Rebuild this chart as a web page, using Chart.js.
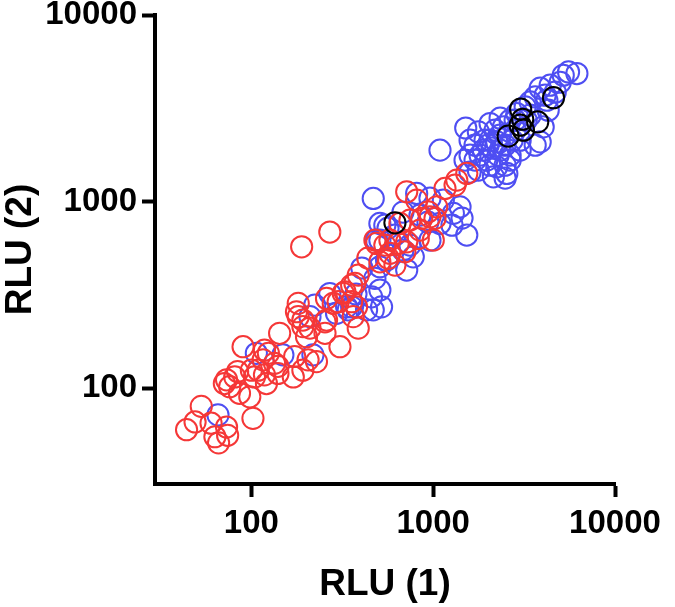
<!DOCTYPE html>
<html>
<head>
<meta charset="utf-8">
<script src="https://cdn.jsdelivr.net/npm/chart.js@4/dist/chart.umd.min.js"></script>
<style>
html,body{margin:0;padding:0;background:#ffffff;}
#wrap{width:675px;height:607px;}
</style>
</head>
<body>
<div id="wrap"><canvas id="c" width="675" height="607"></canvas></div>
<script>
// Tick labels (both axes)
const tickValues = [100, 1000, 10000];
const xTitle = 'RLU (1)';
const yTitle = 'RLU (2)';

// Red series
const redX = [44,49,53,60,63,66,74,73,102,76,73,84,90,86,98,104,109,116,124,121,140,143,170,181,192,201,205,228,307,259,282,379,363,71,81,100,118,140,134,173,192,118,177,192,210,181,259,254,189,270,387,356,327,300,356,387,254,488,1530,1348,1161,715,811,1045,960,745,846,656,715,1001,578,478,578,509,371,320,940,1319,865,642,566,699,828,616,1023,437,542];
const redY = [60,66,80,65,55,51,56,62,69,102,111,123,167,94,90,115,125,142,154,106,131,197,115,242,214,189,142,139,167,232,285,273,242,106,115,125,118,120,136,148,125,160,257,232,210,285,303,227,573,687,404,357,329,291,291,210,197,597,1416,1304,1177,1129,1019,938,829,796,704,764,609,622,622,622,528,476,365,323,882,1226,813,597,497,539,635,457,813,498,585];

// Blue series
const blueX = [65.5,106.5,149,210,218,334,468,509,509,478,458,520,270,341,223,430,468,509,811,715,1530,1291,1405,1137,509,356,294,960,777,682,554,488,1090,1510,1090,2055,1888,1971,2238,2649,2144,2541,1772,5552,6173,5191,4400,3877,3639,4220,3205,2884,2649,2433,3639,4027,2238,2649,3415,3877,2334,2109,2487,2275,1929,2823,3008,3246,4291,4690,616,846,1441,1269,960,564,682,936,745,405,1595,1699,1772,2055,2334,1497,2487,1595,376,542,2004,2190,1811,2334,2718,2487,2055,2823,3415,4130,4996,3008,1699,1595];
const blueY = [72,154,151,242,151,273,263,622,448,388,309,273,322,263,279,263,1040,764,1106,430,662,865,938,1019,336,273,252,622,506,550,486,622,764,2480,1887,2134,1887,1668,1536,1668,1358,1416,1475,4953,4856,4755,4205,4052,3640,3495,3218,2966,2731,2514,2006,2514,2090,1775,3422,2090,2270,1934,2006,1775,2134,2414,2134,2731,3089,3857,662,847,816,748,1044,721,879,777,585,441,1775,2006,2364,2621,2800,1668,1336,1439,320,748,2006,2414,1775,1887,2134,1568,1568,2731,2905,3718,4363,1887,1668,2134];

// Black series
const blackX = [616,4589,3027,3105,3756,3008,3136,2583];
const blackY = [770,3604,3136,2764,2674,2568,2414,2243];

const RED = 'rgb(245,55,55)';
const BLUE = 'rgb(78,78,242)';
const BLACK = '#000000';

function pts(xs, ys){ return xs.map((x,i)=>({x:x, y:ys[i]})); }

const FONT = "'Liberation Sans', Arial, Helvetica, sans-serif";

function series(label, xs, ys, color){
  return {
    label: label,
    data: pts(xs, ys),
    showLine: false,
    pointStyle: 'circle',
    pointRadius: 10.6,
    pointHoverRadius: 10.6,
    borderWidth: 2,
    pointBorderWidth: 2,
    borderColor: color,
    pointBorderColor: color,
    backgroundColor: 'rgba(0,0,0,0)',
    pointBackgroundColor: 'rgba(0,0,0,0)'
  };
}

const tickFont = {family: FONT, weight: 'bold', size: 33};
const titleFont = {family: FONT, weight: 'bold', size: 37, lineHeight: 1.1};

new Chart(document.getElementById('c'), {
  type: 'scatter',
  data: {
    datasets: [
      series('black', blackX, blackY, BLACK),
      series('red', redX, redY, RED),
      series('blue', blueX, blueY, BLUE)
    ]
  },
  options: {
    responsive: false,
    animation: false,
    devicePixelRatio: 1,
    layout: {padding: {top: 15, right: 60, bottom: 0, left: 0}},
    plugins: {legend: {display: false}, tooltip: {enabled: false}},
    scales: {
      x: {
        type: 'logarithmic',
        min: 29.5,
        max: 10000,
        afterBuildTicks: (s) => { s.ticks = tickValues.map(v => ({value: v, major: true})); },
        afterFit: (s) => { s.height = 123; s.paddingLeft = 0; s.paddingRight = 0; },
        ticks: {
          callback: (v) => String(v),
          font: tickFont,
          color: '#000',
          padding: 7,
          maxRotation: 0,
          autoSkip: false
        },
        grid: {drawOnChartArea: false, drawTicks: true, tickLength: 13, tickWidth: 4, tickColor: '#000'},
        border: {display: true, color: '#000', width: 4},
        title: {display: true, text: xTitle, font: titleFont, color: '#000', padding: {top: 0, bottom: 2}}
      },
      y: {
        type: 'logarithmic',
        min: 30.7,
        max: 10000,
        afterBuildTicks: (s) => { s.ticks = tickValues.map(v => ({value: v, major: true})); },
        afterFit: (s) => { s.width = 155; s.paddingTop = 0; s.paddingBottom = 0; },
        ticks: {
          callback: (v) => String(v),
          font: tickFont,
          color: '#000',
          padding: 5,
          autoSkip: false
        },
        grid: {drawOnChartArea: false, drawTicks: true, tickLength: 13, tickWidth: 4, tickColor: '#000'},
        border: {display: true, color: '#000', width: 4},
        title: {display: true, text: yTitle, font: titleFont, color: '#000', padding: {top: 0, bottom: 0}}
      }
    }
  }
});
</script>
</body>
</html>
